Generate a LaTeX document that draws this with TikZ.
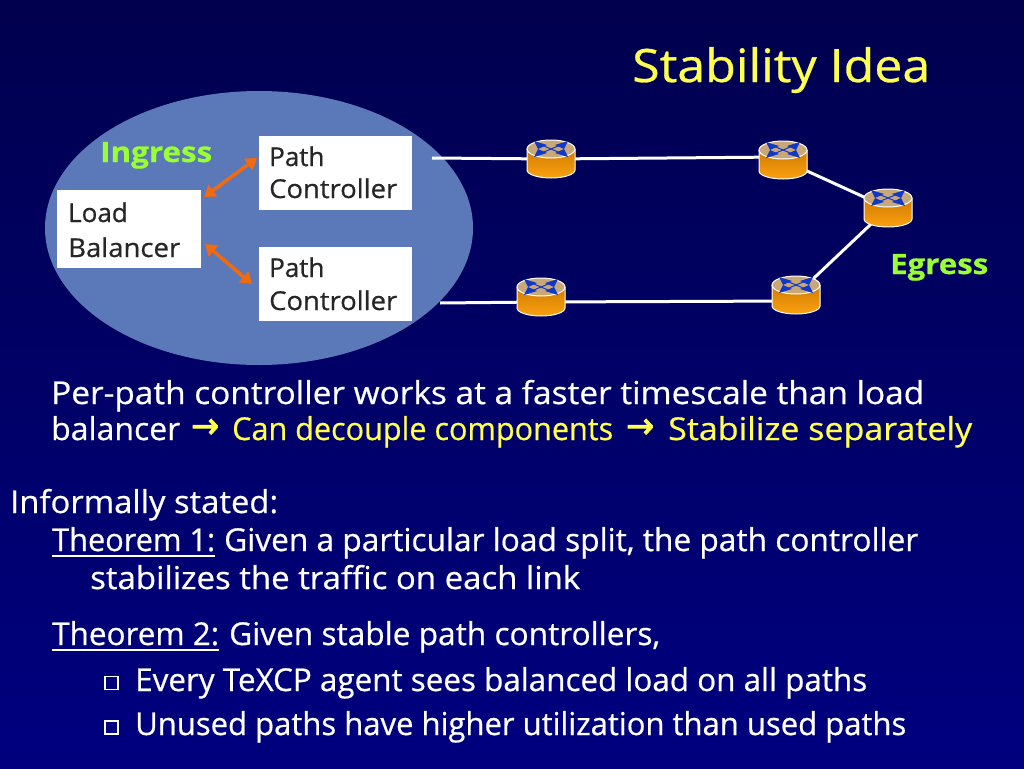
\documentclass[tikz,border=0pt]{standalone}
\usepackage{fontspec}
\usepackage{graphicx}
\setmainfont[RawFeature={embolden=0.6}]{Open Sans}
\newfontfamily\arrowfont[RawFeature={embolden=2.5}]{DejaVu Sans}
\usetikzlibrary{shapes.geometric}
\usetikzlibrary{arrows.meta}
\definecolor{slidetop}{HTML}{00004E}
\definecolor{slidebottom}{HTML}{000080}
\definecolor{blobblue}{HTML}{5B79B9}
\definecolor{tipsorange}{HTML}{F26A10}
\definecolor{labelgreen}{HTML}{99FF33}
\definecolor{softyellow}{HTML}{FFFF4D}
\definecolor{routertop}{HTML}{C8A878}
\definecolor{routersidetop}{HTML}{D07C00}
\definecolor{routersidebottom}{HTML}{FBA010}
\definecolor{routerblue}{HTML}{1238C8}
\newcommand{\fitline}[2]{\resizebox{#1pt}{\height}{#2}}
\tikzset{
  bodytext/.style={anchor=base west,inner sep=0pt,text=white,font=\fontsize{31.5}{36}\selectfont},
  boxtext/.style={anchor=base west,inner sep=0pt,text=black!85,font=\fontsize{26}{30}\selectfont},
  greentext/.style={anchor=base west,inner sep=0pt,text=labelgreen,font=\bfseries\fontsize{28}{30}\selectfont},
  arrowtext/.style={anchor=base west,inner sep=0pt,text=softyellow,font=\arrowfont\fontsize{31.5}{36}\selectfont},
  whitebox/.style={fill=white,inner sep=0pt},
  routernode/.style={inner sep=0pt,minimum width=48pt,minimum height=38pt},
  bulletbox/.style={draw=white,line width=1.3pt,inner sep=0pt,minimum size=13pt},
  link/.style={draw=white,line width=3pt},
  swaparrow/.style={draw=tipsorange,line width=3.6pt,{Triangle[length=11pt,width=14pt]}-{Triangle[length=11pt,width=14pt]}},
  routerpic/.pic={
    \path[draw=white,line width=1pt,top color=routersidetop,bottom color=routersidebottom]
      (-24,-10)
      --
      (-24,11) arc[start angle=180,end angle=360,x radius=24,y radius=-8]
      --
      (24,-10);
    \filldraw[draw=white,line width=1pt,fill=routertop]
      (0,-10) ellipse[x radius=24,y radius=9];
    \draw[routerblue,line width=1pt]
      (-12,-15)
      --
      (12,-5);
    \draw[routerblue,line width=1pt]
      (-12,-5)
      --
      (12,-15);
    \fill[routerblue] (-17,-18) -- (-4,-14) -- (-13,-10) -- cycle;
    \fill[routerblue] (17,-18) -- (4,-14) -- (13,-10) -- cycle;
    \fill[routerblue] (-13,-10) -- (-4,-6) -- (-17,-2) -- cycle;
    \fill[routerblue] (13,-10) -- (4,-6) -- (17,-2) -- cycle;
  }
}
\begin{document}
\begin{tikzpicture}[x=1pt,y=-1pt]
  \useasboundingbox
    (0,0)
    rectangle
    (1024,768);
  \shade[top color=slidetop,bottom color=slidebottom]
    (0,0)
    rectangle
    (1024,768);
  \node[ellipse,fill=blobblue,inner sep=0pt,minimum width=428pt,minimum height=274pt] (ingressblob) at (259,228) {};
  \node[whitebox,minimum width=144pt,minimum height=78pt] (balancer) at (129,229) {};
  \node[whitebox,minimum width=153pt,minimum height=74pt] (ctrlup) at (335.5,173) {};
  \node[whitebox,minimum width=153pt,minimum height=74pt] (ctrldown) at (335.5,284) {};
  \node[routernode] (routera) at (551,159) {};
  \node[routernode] (routerb) at (783,160) {};
  \node[routernode] (routerc) at (888,208) {};
  \node[routernode] (routerd) at (796,295) {};
  \node[routernode] (routere) at (541,297) {};
  \coordinate (startup) at (432,158);
  \coordinate (startdown) at (440,303);
  \coordinate (balup) at (204,197);
  \coordinate (ctrlupend) at (257,158);
  \coordinate (baldown) at (205,244);
  \coordinate (ctrldownend) at (252,284);
  \draw[link]
    (startup)
    --
    (routera.center);
  \draw[link]
    (routera.center)
    --
    ([yshift=3pt]routerb.center);
  \draw[link]
    (routerb.center)
    --
    (routerc.center);
  \draw[link]
    (routerc.center)
    --
    (routerd.center);
  \draw[link]
    ([yshift=-6pt]routerd.center)
    --
    ([yshift=-5pt]routere.center);
  \draw[link]
    ([yshift=-5pt]routere.center)
    --
    (startdown);
  \draw[swaparrow]
    (balup)
    --
    (ctrlupend);
  \draw[swaparrow]
    (baldown)
    --
    (ctrldownend);
  \pic at (routera.center) {routerpic};
  \pic at (routerb.center) {routerpic};
  \pic at (routerc.center) {routerpic};
  \pic at (routerd.center) {routerpic};
  \pic at (routere.center) {routerpic};
  \node[bodytext,text=softyellow,font=\fontsize{46}{50}\selectfont] (title) at (632,82) {\fitline{298}{Stability Idea}};
  \node[greentext] (ingress) at (100,162) {\fitline{112}{Ingress}};
  \node[greentext] (egress) at (890,274) {\fitline{98}{Egress}};
  \node[boxtext] (loadword) at (68,222) {Load};
  \node[boxtext] (balword) at (68,257) {\fitline{112}{Balancer}};
  \node[boxtext] (pathup) at (269,166) {Path};
  \node[boxtext] (wordup) at (269,198) {\fitline{128}{Controller}};
  \node[boxtext] (pathdown) at (269,277) {Path};
  \node[boxtext] (worddown) at (269,310) {\fitline{128}{Controller}};
  \node[bodytext] (lineone) at (51,404) {\fitline{873}{Per-path controller works at a faster timescale than load}};
  \node[bodytext] (linetwo) at (51,440) {\fitline{129}{balancer}};
  \node[arrowtext] (arrowone) at (191,438) {\resizebox{28pt}{19pt}{→}};
  \node[bodytext,text=softyellow] (decouple) at (232,440) {\fitline{381}{Can decouple components}};
  \node[arrowtext] (arrowtwo) at (626,438) {\resizebox{28pt}{19pt}{→}};
  \node[bodytext,text=softyellow] (stabilize) at (668,440) {\fitline{304}{Stabilize separately}};
  \node[bodytext] (informal) at (10,513) {\fitline{268}{Informally stated:}};
  \node[bodytext] (thmone) at (52,551) {\fitline{163}{Theorem 1:}};
  \node[bodytext] (thmonetext) at (224,551) {\fitline{694}{Given a particular load split, the path controller}};
  \node[bodytext] (thmonemore) at (90,589) {\fitline{490}{stabilizes the traffic on each link}};
  \node[bodytext] (thmtwo) at (52,645) {\fitline{167}{Theorem 2:}};
  \node[bodytext] (thmtwotext) at (229,645) {\fitline{431}{Given stable path controllers,}};
  \node[bulletbox] (bulletone) at (111.5,683) {};
  \node[bodytext] (itemone) at (135,691) {\fitline{732}{Every TeXCP agent sees balanced load on all paths}};
  \node[bulletbox] (bullettwo) at (111.5,727.5) {};
  \node[bodytext] (itemtwo) at (135,735) {\fitline{771}{Unused paths have higher utilization than used paths}};
  \draw[white,line width=2pt]
    ([yshift=-5pt]thmone.base west)
    --
    ([yshift=-5pt]thmone.base east);
  \draw[white,line width=2pt]
    ([yshift=-5pt]thmtwo.base west)
    --
    ([yshift=-5pt]thmtwo.base east);
\end{tikzpicture}
\end{document}
